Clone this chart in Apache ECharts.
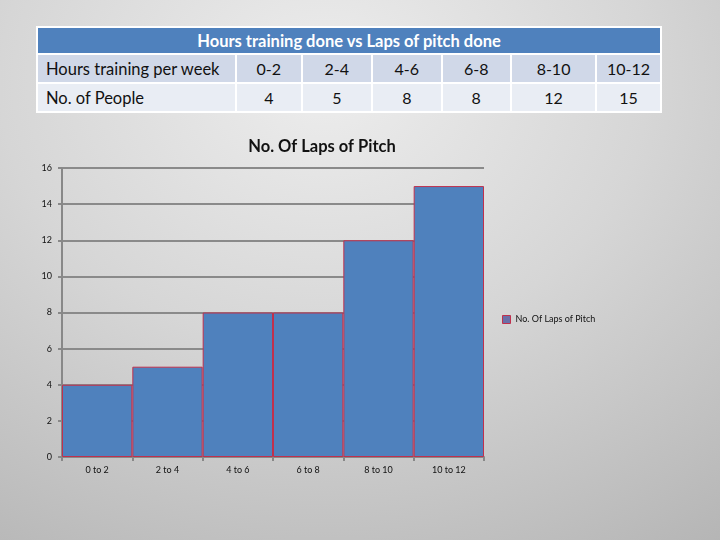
<!DOCTYPE html>
<html>
<head>
<meta charset="utf-8">
<title>Hours training done vs Laps of pitch done</title>
<script src="https://cdn.jsdelivr.net/npm/echarts@6/dist/echarts.min.js"></script>
<style>
    html, body { margin: 0; padding: 0; }
    body {
        width: 720px; height: 540px; overflow: hidden; position: relative;
        background: radial-gradient(ellipse 100% 110% at 45% 15%, #ededed 0%, #d6d6d6 45%, #b2b2b2 100%);
        font-family: Lato, "Open Sans", sans-serif;
    }
    #tbl {
        position: absolute; left: 36px; top: 26px; width: 626px;
        border-collapse: collapse; border: 2px solid #fff;
    }
    #tbl td { border: 2px solid #fff; padding: 0; height: 27px; font-size: 16px; color: #111; text-align: center; }
    #tbl td.head { background: #4f81bd; color: #fff; font-weight: bold; height: 25px; font-size: 16.5px; }
    #tbl tr.r1 td { background: #d0d8e8; }
    #tbl tr.r2 td { background: #e9edf4; }
    #tbl td.lab { text-align: left; padding-left: 8px; width: 193px; font-size: 16.5px; }
    #main { position: absolute; left: 0; top: 0; width: 720px; height: 540px; }
</style>
</head>
<body>
<table id="tbl"></table>
<div id="main"></div>
<script>
    // table data
    var tableTitle = 'Hours training done vs Laps of pitch done';
    var rowLabels = ['Hours training per week', 'No. of People'];
    var hourRanges = ['0-2', '2-4', '4-6', '6-8', '8-10', '10-12'];
    var peopleCounts = [4, 5, 8, 8, 12, 15];
    var colWidths = [65, 70, 69, 69, 85, 64];

    // chart data
    var categories = ['0 to 2', '2 to 4', '4 to 6', '6 to 8', '8 to 10', '10 to 12'];
    var laps = [4, 5, 8, 8, 12, 15];
    var seriesName = 'No. Of Laps of Pitch';

    // build the table
    var tbl = document.getElementById('tbl');
    var html = '<tr><td class="head" colspan="7">' + tableTitle + '</td></tr>';
    html += '<tr class="r1"><td class="lab">' + rowLabels[0] + '</td>';
    hourRanges.forEach(function (h, i) { html += '<td style="width:' + colWidths[i] + 'px">' + h + '</td>'; });
    html += '</tr><tr class="r2"><td class="lab">' + rowLabels[1] + '</td>';
    peopleCounts.forEach(function (p) { html += '<td>' + p + '</td>'; });
    html += '</tr>';
    tbl.innerHTML = html;

    var myChart = echarts.init(document.getElementById('main'));
    var option = {
        backgroundColor: 'transparent',
        textStyle: { fontFamily: 'Lato, "Open Sans", sans-serif' },
        title: {
            text: seriesName,
            left: 317, top: 133, textAlign: 'center',
            textStyle: { fontSize: 16.5, fontWeight: 'bold', color: '#111' }
        },
        legend: {
            data: [{ name: seriesName, icon: 'rect' }],
            left: 497, top: 310,
            itemWidth: 8, itemHeight: 8, itemGap: 4,
            itemStyle: { color: '#6a6fa8', borderColor: '#c0304d', borderWidth: 1 },
            textStyle: { fontSize: 9, color: '#111' }
        },
        grid: { left: 62, top: 168, right: 236, bottom: 83 },
        xAxis: {
            type: 'category',
            data: categories,
            axisLine: { lineStyle: { color: '#888', width: 2 } },
            axisTick: { show: true, length: 4, lineStyle: { color: '#888', width: 2 } },
            axisLabel: { fontSize: 9, color: '#111', margin: 9 }
        },
        yAxis: {
            type: 'value',
            min: 0, max: 16, interval: 2,
            axisLine: { show: true, lineStyle: { color: '#888', width: 2 } },
            axisTick: { show: true, length: 4, lineStyle: { color: '#888', width: 2 } },
            axisLabel: { fontSize: 9, color: '#111', margin: 10 },
            splitLine: { lineStyle: { color: '#8a8a8a', width: 2 } }
        },
        series: [{
            name: seriesName,
            type: 'bar',
            data: laps,
            barCategoryGap: '0%',
            itemStyle: { color: '#4f81bd', borderColor: '#c0304d', borderWidth: 1 }
        }]
    };
    myChart.setOption(option);
</script>
</body>
</html>
